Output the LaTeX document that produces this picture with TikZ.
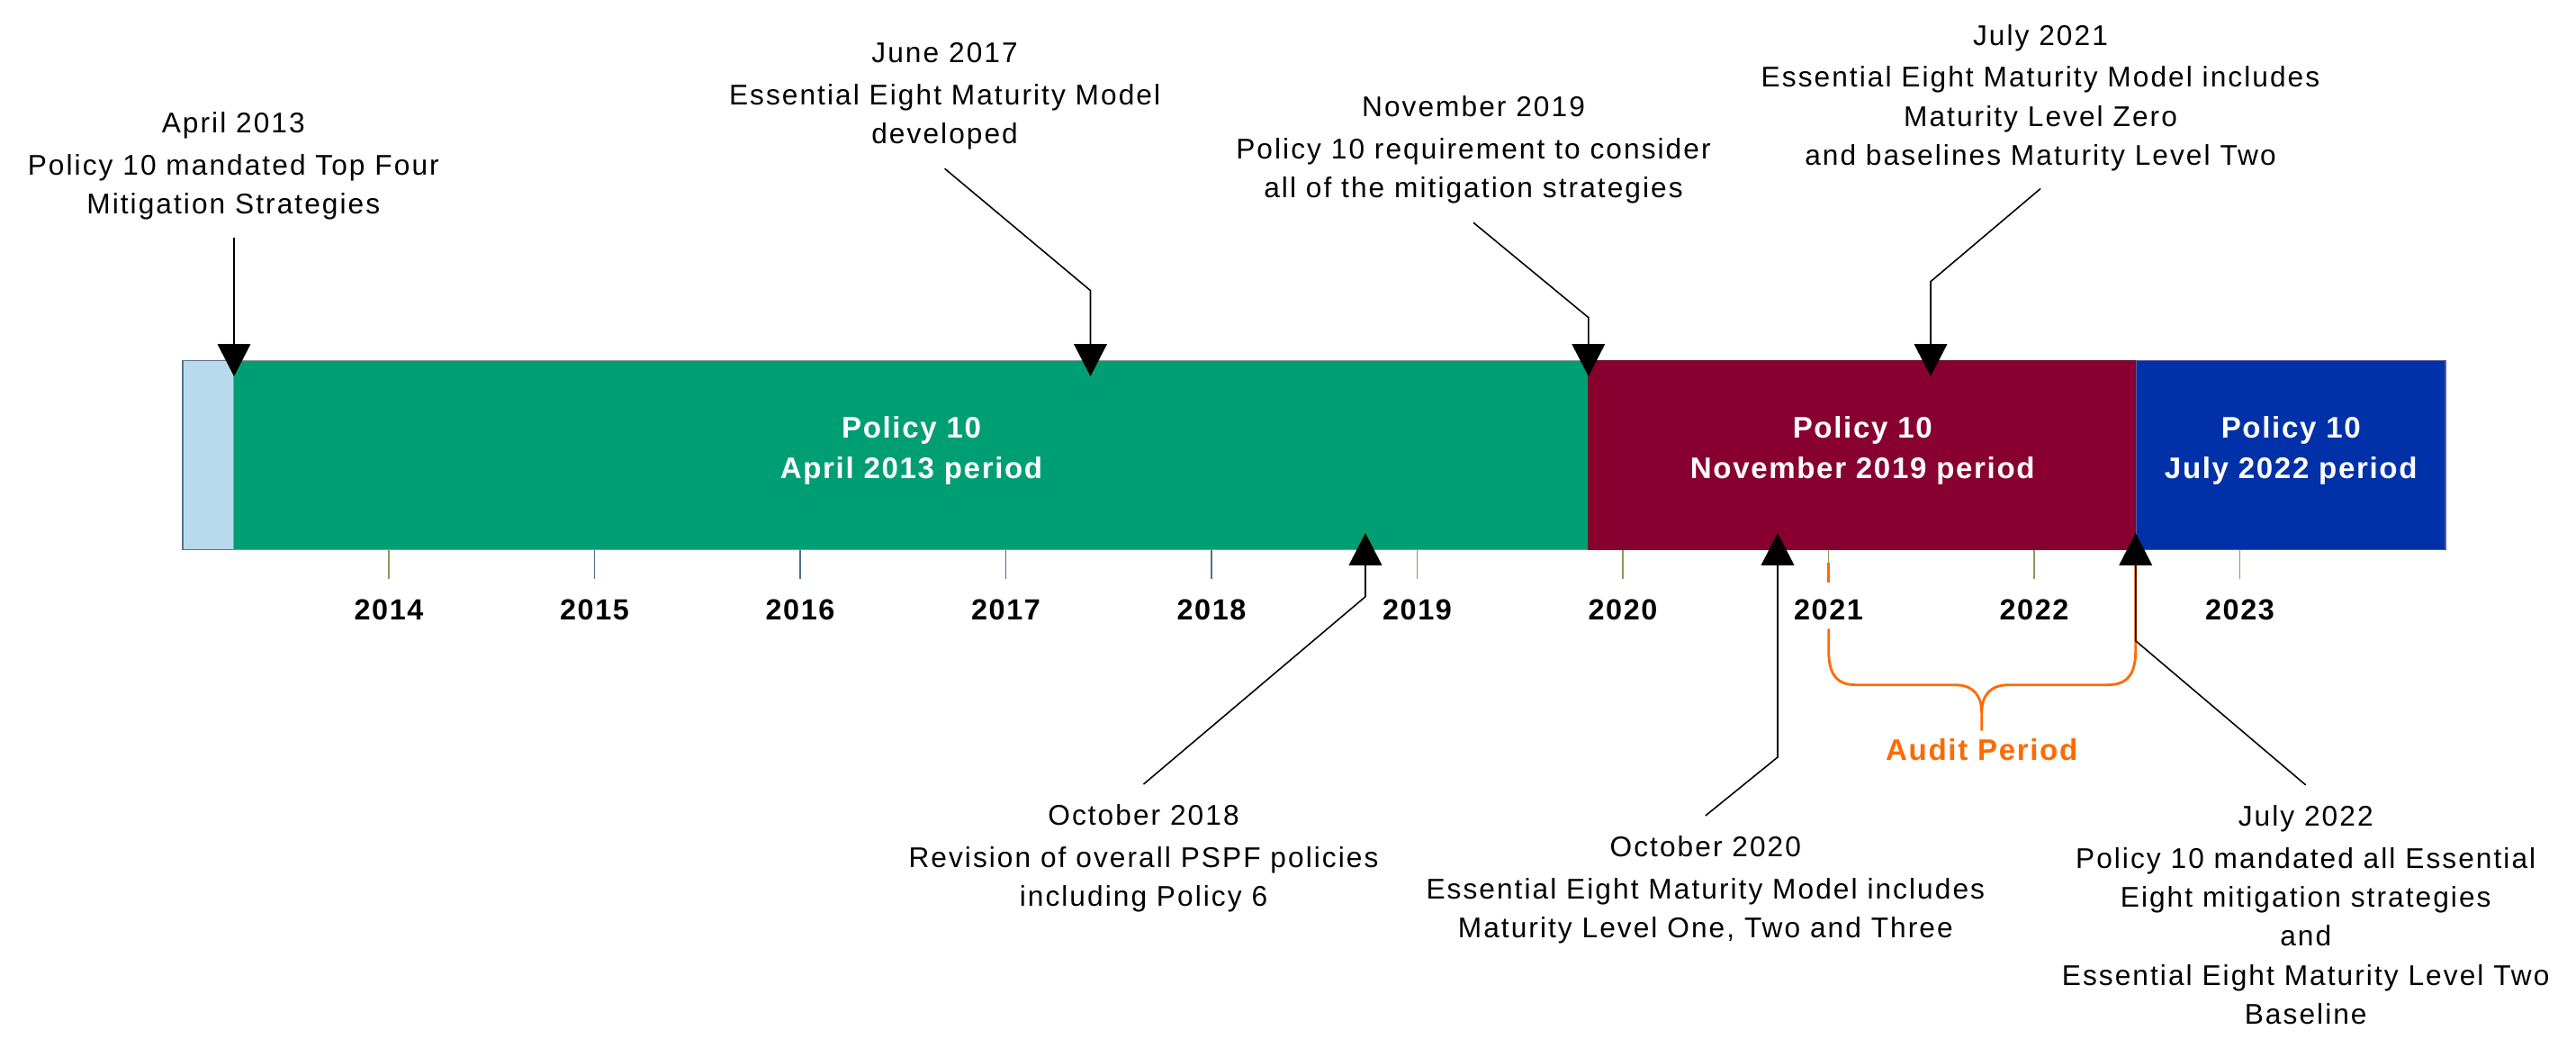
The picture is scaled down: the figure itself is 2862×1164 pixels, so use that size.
\documentclass[tikz,border=0pt]{standalone}
\usepackage{fontspec}
\setmainfont{Liberation Sans}
\newfontfamily\txtfont[LetterSpace=6.5]{Liberation Sans}
\newfontfamily\barfont[LetterSpace=5]{Liberation Sans}
\usetikzlibrary{arrows.meta,calc}
\definecolor{segLB}{HTML}{B7DAEC}
\definecolor{segLBb}{HTML}{5A7090}
\definecolor{segG}{HTML}{009E73}
\definecolor{segGb}{HTML}{8A9A9A}
\definecolor{segM}{HTML}{880030}
\definecolor{segMb}{HTML}{6B1A2A}
\definecolor{segB}{HTML}{0031A8}
\definecolor{segBb}{HTML}{5A5AA0}
\definecolor{tickOl}{HTML}{8A9A5B}
\definecolor{tickBl}{HTML}{4F6E8F}
\definecolor{auditOr}{HTML}{FF6A00}
\tikzset{
  seg/.style={rectangle, inner sep=0, minimum height=2.10cm, line width=0.5pt},
  txt/.style={font=\txtfont\fontsize{9}{12.3}\selectfont, align=center, inner sep=0, anchor=base},
  barlab/.style={font=\barfont\bfseries\fontsize{9.4}{12.8}\selectfont, text=white, align=center, inner sep=0, anchor=base},
  yearlab/.style={font=\barfont\bfseries\fontsize{9.2}{11}\selectfont, inner sep=0, anchor=base},
  auditlab/.style={barlab, text=auditOr},
  conn/.style={line width=0.45pt, -{Triangle[length=10.2pt,width=10.4pt]}},
  tickmk/.style={line width=0.5pt},
  brace/.style={draw=auditOr, line width=0.8pt}
}
\begin{document}
\begin{tikzpicture}[x=0.01cm,y=-0.01cm]
\useasboundingbox (0,0) rectangle (2862,1164);

% bar segments
\node[seg, fill=segLB, draw=segLBb, minimum width=0.57cm] (sLB) at (231.5,505.5) {};
\node[seg, fill=segG, draw=segGb, minimum width=15.05cm] (sG) at (1012.5,505.5) {};
\node[seg, fill=segM, draw=segMb, minimum width=6.085cm] (sM) at (2069.25,505.5) {};
\node[seg, fill=segB, draw=segBb, minimum width=3.435cm] (sB) at (2545.25,505.5) {};

\node[barlab] (lG) at (1012.5,531.7) {Policy 10\\April 2013 period};
\node[barlab] (lM) at (2069.25,531.7) {Policy 10\\November 2019 period};
\node[barlab] (lB) at (2545.25,531.7) {Policy 10\\July 2022 period};

% ticks and years
\foreach \yr/\tc in {2014/tickOl,2015/tickBl,2016/tickBl,2017/tickBl,2018/tickBl,2019/tickOl,2020/tickOl,2021/tickOl,2022/tickOl,2023/tickOl}{
  \pgfmathsetmacro{\tx}{432+(\yr-2014)*228.5}
  \draw[tickmk, draw=\tc] (\tx,611) -- (\tx,643);
  \node[yearlab] (y\yr) at (\tx,689) {\yr};
}

% audit brace
\draw[brace] (2031.7,625) -- (2031.7,646.7);
\draw[brace] (2031.7,698.3) -- (2031.7,723)
  .. controls (2031.7,748) and (2040,760.7) .. (2061.7,760.7) -- (2171.7,760.7)
  .. controls (2192,760.7) and (2201.7,772) .. (2201.7,792) -- (2201.7,811.7);
\draw[brace] (2201.7,792) .. controls (2201.7,772) and (2211.4,760.7) .. (2231.7,760.7)
  -- (2341.7,760.7) .. controls (2364,760.7) and (2372.7,748) .. (2372.7,723) -- (2372.7,628.3);
\node[auditlab] (audit) at (2201.7,845) {Audit Period};

% event texts (anchored at the baseline of their last line)
\node[txt] (n13) at (259.3,237.3) {April 2013\\[1pt]Policy 10 mandated Top Four\\Mitigation Strategies};
\node[txt] (n17) at (1049.6,160) {June 2017\\[1pt]Essential Eight Maturity Model\\developed};
\node[txt] (n19) at (1637,220) {November 2019\\[1pt]Policy 10 requirement to consider\\all of the mitigation strategies};
\node[txt] (n21) at (2267,183.3) {July 2021\\[1pt]Essential Eight Maturity Model includes\\Maturity Level Zero\\and baselines Maturity Level Two};
\node[txt] (n18) at (1270.5,1006.7) {October 2018\\[1pt]Revision of overall PSPF policies\\including Policy 6};
\node[txt] (n20) at (1894.8,1041.7) {October 2020\\[1pt]Essential Eight Maturity Model includes\\Maturity Level One, Two and Three};
\node[txt] (n22) at (2561.7,1137.3) {July 2022\\[1pt]Policy 10 mandated all Essential\\Eight mitigation strategies\\and\\Essential Eight Maturity Level Two\\Baseline};

% connector points
\coordinate (t13) at (260,418);
\coordinate (e17) at (1211.5,322.7);
\coordinate (t17) at (1211.5,418);
\coordinate (e19) at (1764.8,352.7);
\coordinate (t19) at (1764.8,418);
\coordinate (e21) at (2145,312.7);
\coordinate (t21) at (2145,418);
\coordinate (e18) at (1517,662.7);
\coordinate (t18) at (1517,592);
\coordinate (e20) at (1975,841);
\coordinate (t20) at (1975,592);
\coordinate (e22) at (2372.7,711.7);
\coordinate (t22) at (2372.7,592);

\draw[conn] ($(n13.south -| t13)+(0,19)$) -- (t13);
\draw[conn] ($(n17.south)+(0,20)$) -- (e17) -- (t17);
\draw[conn] ($(n19.south)+(0,20)$) -- (e19) -- (t19);
\draw[conn] ($(n21.south)+(0,19)$) -- (e21) -- (t21);
\draw[conn] ($(n18.north)+(0,-22)$) -- (e18) -- (t18);
\draw[conn] ($(n20.north)+(0,-22)$) -- (e20) -- (t20);
\draw[conn] ($(n22.north)+(0,-22)$) -- (e22) -- (t22);
\end{tikzpicture}
\end{document}
